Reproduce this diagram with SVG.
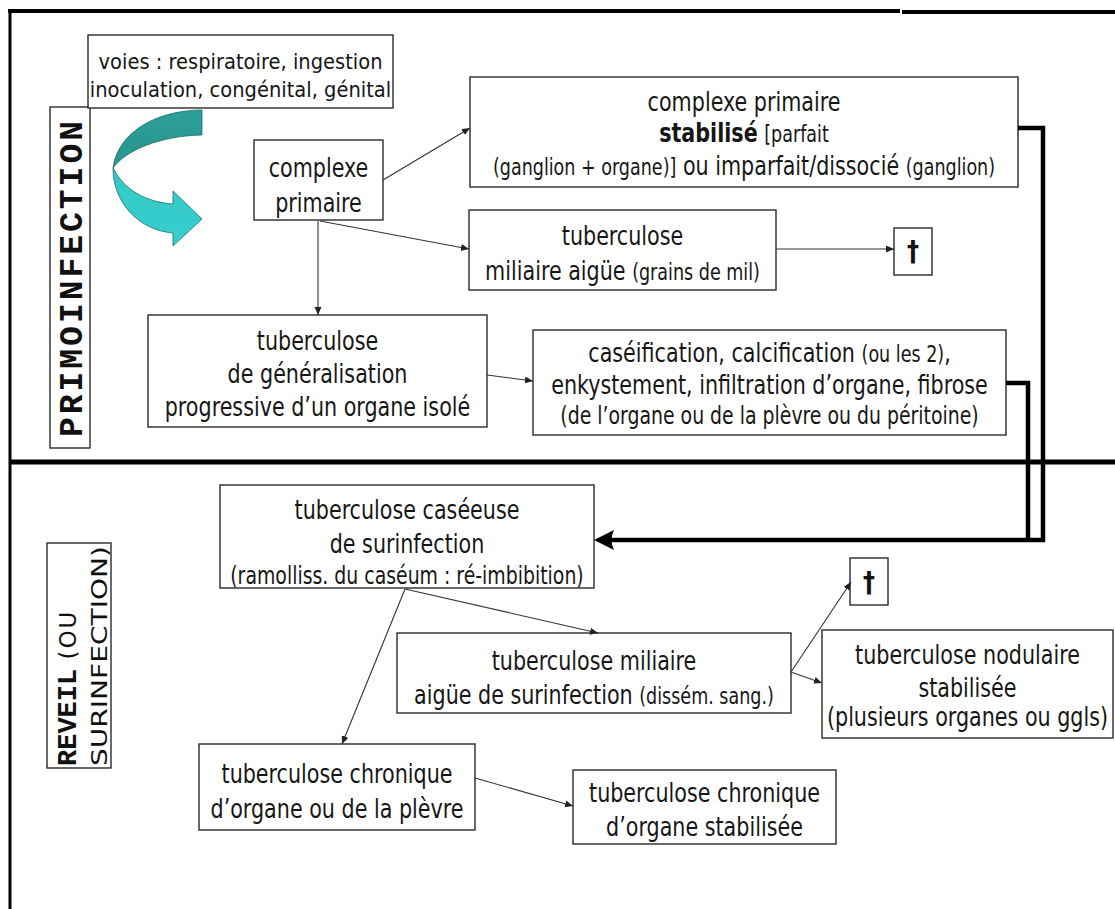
<svg xmlns="http://www.w3.org/2000/svg" width="1115" height="909" viewBox="0 0 1115 909">
<style>
.box{fill:#fff;stroke:#2a2a2a;stroke-width:1.4}
.t{font-family:"DejaVu Sans Condensed","DejaVu Sans",sans-serif;font-stretch:condensed;font-size:23px;fill:#161616;text-anchor:middle}
.s{font-size:19.5px}
.m{font-size:21px}
.v{font-family:"DejaVu Sans",sans-serif;font-size:19.5px;fill:#161616;text-anchor:middle}
.b{font-weight:bold}
.frame{stroke:#000;fill:none}
.thin{stroke:#333;stroke-width:1.1;fill:none;marker-end:url(#ah)}
.thick{stroke:#000;stroke-width:4.5;fill:none;stroke-linejoin:miter}
.mono{font-family:"Liberation Mono",monospace;font-weight:bold;fill:#111}
.vs{font-family:"DejaVu Sans",sans-serif;fill:#111}
.dag{font-family:"DejaVu Sans",sans-serif;font-size:24px;font-weight:bold;fill:#1a0f0f;text-anchor:middle}
</style>
<defs>
<marker id="ah" markerUnits="userSpaceOnUse" markerWidth="10" markerHeight="8" refX="8" refY="3.5" orient="auto">
<path d="M0,0 L8,3.5 L0,7 z" fill="#222"/>
</marker>
<linearGradient id="gTop" x1="0" y1="0" x2="0" y2="1">
<stop offset="0" stop-color="#2e9f99"/>
<stop offset="1" stop-color="#26948f"/>
</linearGradient>
<linearGradient id="gBot" x1="0" y1="0" x2="0" y2="1">
<stop offset="0" stop-color="#33c8c6"/>
<stop offset="1" stop-color="#36cfcd"/>
</linearGradient>
</defs>
<rect width="1115" height="909" fill="#fff"/>

<g id="frame">
<line class="frame" x1="8" y1="11" x2="900" y2="11" stroke-width="4"/>
<line class="frame" x1="902" y1="12" x2="1115" y2="12" stroke-width="4"/>
<line class="frame" x1="10" y1="9" x2="10" y2="909" stroke-width="3"/>
<line class="frame" x1="9" y1="462" x2="1115" y2="462" stroke-width="5"/>
</g>

<g id="label-primo">
<rect class="box" x="50" y="107" width="40" height="341"/>
<text class="mono" font-size="33" transform="translate(82,437) rotate(-90)" textLength="316" lengthAdjust="spacing">PRIMOINFECTION</text>
</g>

<g id="label-reveil">
<rect class="box" x="47" y="543" width="64" height="225"/>
<text transform="translate(76,766) rotate(-90)"><tspan class="mono" font-size="27">REVEIL</tspan><tspan class="vs" font-size="23" letter-spacing="2"> (OU</tspan></text>
<text class="vs" font-size="22" transform="translate(107,766) rotate(-90)" textLength="220" lengthAdjust="spacingAndGlyphs">SURINFECTION)</text>
</g>

<g id="voies">
<rect class="box" x="88" y="35" width="305" height="73"/>
<text class="v" transform="translate(240.5,69) scale(1,1.1)">voies : respiratoire, ingestion</text>
<text class="v" transform="translate(240.5,97) scale(1,1.1)">inoculation, congénital, génital</text>
</g>

<g id="curved-arrow">
<path d="M202,110 C160,110 118,130 113,168 C126,150 160,136 202,135 Z" fill="url(#gTop)" stroke="#1d6e6a" stroke-width="0.8"/>
<path d="M113,168 C113,202 138,230 173,233 L173,246 L202,219 L173,191 L173,204 C146,202 124,190 113,168 Z" fill="url(#gBot)" stroke="#1d6e6a" stroke-width="0.8"/>
</g>

<g id="n-complexe">
<rect class="box" x="254" y="140" width="129" height="80"/>
<text class="t" transform="translate(318.5,177) scale(1,1.18)">complexe</text>
<text class="t" transform="translate(318.5,212) scale(1,1.18)">primaire</text>
</g>

<g id="n-stabilise">
<rect class="box" x="470" y="77" width="548" height="110"/>
<text class="t" transform="translate(744,111) scale(1,1.18)">complexe primaire</text>
<text class="t" transform="translate(744,142) scale(1,1.18)"><tspan class="b">stabilisé</tspan> <tspan class="s">[parfait</tspan></text>
<text class="t" transform="translate(744,175) scale(1,1.18)"><tspan class="s">(ganglion + organe)]</tspan> ou imparfait/dissocié <tspan class="s">(ganglion)</tspan></text>
</g>

<g id="n-miliaire">
<rect class="box" x="469" y="210" width="307" height="80"/>
<text class="t" transform="translate(622.5,245) scale(1,1.18)">tuberculose</text>
<text class="t" transform="translate(622.5,280) scale(1,1.18)">miliaire aigüe <tspan class="s">(grains de mil)</tspan></text>
</g>

<g id="n-dag1">
<rect class="box" x="894" y="228" width="38" height="47"/>
<text class="dag" transform="translate(913,261) scale(1,1.18)">†</text>
</g>

<g id="n-generalisation">
<rect class="box" x="148" y="315" width="339" height="112"/>
<text class="t" transform="translate(317.5,350) scale(1,1.18)">tuberculose</text>
<text class="t" transform="translate(317.5,383) scale(1,1.18)">de généralisation</text>
<text class="t" transform="translate(317.5,416) scale(1,1.18)">progressive d’un organe isolé</text>
</g>

<g id="n-caseification">
<rect class="box" x="533" y="330" width="473" height="105"/>
<text class="t" transform="translate(769.5,362) scale(1,1.18)">caséification, calcification <tspan class="s">(ou les 2)</tspan>,</text>
<text class="t" transform="translate(769.5,394) scale(1,1.18)">enkystement, infiltration d’organe, fibrose</text>
<text class="t m" transform="translate(769.5,424) scale(1,1.18)">(de l’organe ou de la plèvre ou du péritoine)</text>
</g>

<g id="n-caseeuse">
<rect class="box" x="220" y="485" width="374" height="103"/>
<text class="t" transform="translate(407,519) scale(1,1.18)">tuberculose caséeuse</text>
<text class="t" transform="translate(407,553) scale(1,1.18)">de surinfection</text>
<text class="t m" transform="translate(407,584) scale(1,1.18)">(ramolliss. du caséum : ré-imbibition)</text>
</g>

<g id="n-dag2">
<rect class="box" x="850" y="558" width="38" height="47"/>
<text class="dag" transform="translate(869,592) scale(1,1.18)">†</text>
</g>

<g id="n-miliaire-surinf">
<rect class="box" x="397" y="633" width="394" height="80"/>
<text class="t" transform="translate(594,670) scale(1,1.18)">tuberculose miliaire</text>
<text class="t" transform="translate(594,704) scale(1,1.18)">aigüe de surinfection <tspan class="s">(dissém. sang.)</tspan></text>
</g>

<g id="n-nodulaire">
<rect class="box" x="822" y="630" width="291" height="108"/>
<text class="t" transform="translate(967.5,664) scale(1,1.18)">tuberculose nodulaire</text>
<text class="t" transform="translate(967.5,697) scale(1,1.18)">stabilisée</text>
<text class="t" font-size="21.8" transform="translate(967.5,726) scale(1,1.18)">(plusieurs organes ou ggls)</text>
</g>

<g id="n-chronique">
<rect class="box" x="199" y="744" width="276" height="86"/>
<text class="t" transform="translate(337,783) scale(1,1.18)">tuberculose chronique</text>
<text class="t" transform="translate(337,818) scale(1,1.18)">d’organe ou de la plèvre</text>
</g>

<g id="n-chronique-stab">
<rect class="box" x="573" y="770" width="263" height="74"/>
<text class="t" transform="translate(704.5,802) scale(1,1.18)">tuberculose chronique</text>
<text class="t" transform="translate(704.5,836) scale(1,1.18)">d’organe stabilisée</text>
</g>

<g id="connectors">
<line class="thin" x1="383" y1="180" x2="470" y2="128"/>
<line class="thin" x1="320" y1="221" x2="469" y2="249"/>
<line class="thin" x1="318" y1="221" x2="318" y2="315"/>
<line class="thin" x1="776" y1="249" x2="894" y2="249"/>
<line class="thin" x1="487" y1="375" x2="533" y2="381"/>
<line class="thin" x1="405" y1="589" x2="598" y2="633"/>
<line class="thin" x1="405" y1="589" x2="342" y2="744"/>
<line class="thin" x1="791" y1="672" x2="851" y2="582"/>
<line class="thin" x1="791" y1="672" x2="822" y2="683"/>
<line class="thin" x1="475" y1="778" x2="573" y2="806"/>
<polyline class="thick" points="1018,128 1043,128 1043,540 608,540"/>
<polyline class="thick" points="1006,383 1028,383 1028,540"/>
<path d="M594,540 L614,530 Q609,540 614,550 Z" fill="#000"/>
</g>
</svg>
